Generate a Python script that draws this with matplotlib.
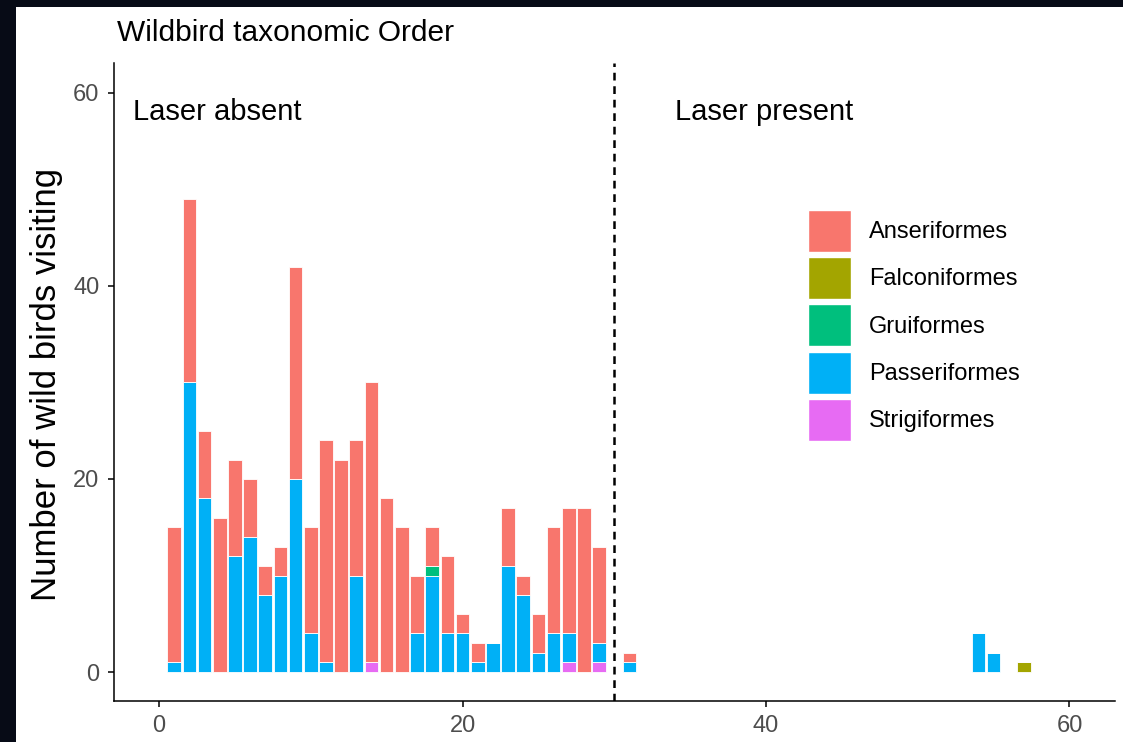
import matplotlib
matplotlib.use("Agg")
import matplotlib.pyplot as plt
import numpy as np
from matplotlib.patches import Patch, Rectangle

plt.rcParams['font.family'] = ['Liberation Sans', 'DejaVu Sans']

# day of trial and counts per taxonomic order
days = [1, 2, 3, 4, 5, 6, 7, 8, 9, 10, 11, 12, 13, 14, 15, 16, 17, 18, 19, 20,
        21, 22, 23, 24, 25, 26, 27, 28, 29, 31, 54, 55, 57]
anseriformes = [14, 19, 7, 16, 10, 6, 3, 3, 22, 11, 23, 22, 14, 29, 18, 15, 6, 4, 8, 2,
                2, 0, 6, 2, 4, 11, 13, 17, 10, 1, 0, 0, 0]
falconiformes = [0] * 32 + [1]
gruiformes = [0] * 17 + [1] + [0] * 15
passeriformes = [1, 30, 18, 0, 12, 14, 8, 10, 20, 4, 1, 0, 10, 0, 0, 0, 4, 10, 4, 4,
                 1, 3, 11, 8, 2, 4, 3, 0, 2, 1, 4, 2, 0]
strigiformes = [0] * 13 + [1] + [0] * 12 + [1, 0, 1, 0, 0, 0, 0]

orders = ["Anseriformes", "Falconiformes", "Gruiformes", "Passeriformes", "Strigiformes"]
colors = ["#F8766D", "#A3A500", "#00BF7D", "#00B0F6", "#E76BF3"]
series = [anseriformes, falconiformes, gruiformes, passeriformes, strigiformes]

fig = plt.figure(figsize=(11.23, 7.42), dpi=100)
fig.patch.set_facecolor("#070b16")
# white panel of the screenshot
fig.patches.append(Rectangle((16 / 1123, 0), 1, 1 - 7 / 742, transform=fig.transFigure,
                             facecolor="white", edgecolor="none", zorder=-5))

ax = fig.add_axes([114 / 1123, 1 - 700.7 / 742, (1115 - 114) / 1123, (700.7 - 63) / 742])
ax.set_zorder(2)
ax.patch.set_alpha(0)

# ggplot stacks the first level on top, so draw from the last level upwards
bottom = np.zeros(len(days))
for name, col, vals in reversed(list(zip(orders, colors, series))):
    vals = np.array(vals, dtype=float)
    ax.bar(days, vals, width=0.9, bottom=bottom, color=col, edgecolor="white",
           linewidth=0.6, zorder=2)
    bottom += vals

ax.axvline(30, color="black", lw=1.8, linestyle=(0, (3.1, 2.3)), zorder=3)

ax.text(-1.7, 58, "Laser absent", fontsize=21, va="center", ha="left")
ax.text(34.0, 58, "Laser present", fontsize=21, va="center", ha="left")

ax.set_xlim(-2.97, 63.0)
ax.set_ylim(-2.97, 63.1)
ax.set_xticks([0, 20, 40, 60])
ax.set_yticks([0, 20, 40, 60])
for s in ["top", "right"]:
    ax.spines[s].set_visible(False)
for s in ["left", "bottom"]:
    ax.spines[s].set_linewidth(1.1)
ax.tick_params(length=4.5, width=1.1, labelsize=17, labelcolor="#4D4D4D", pad=6)

fig.text(117 / 1123, 1 - 33 / 742, "Wildbird taxonomic Order", fontsize=21.5,
         ha="left", va="center")
fig.text(47 / 1123, 1 - 384 / 742, "Number of wild birds visiting", fontsize=25,
         rotation=90, ha="center", va="center")

handles = [Patch(facecolor=c, edgecolor="white", linewidth=1) for c in colors]
ax.legend(handles, orders, loc="upper left", bbox_to_anchor=(808 / 1123, 1 - 210 / 742),
          bbox_transform=fig.transFigure, frameon=False, fontsize=17, borderpad=0,
          borderaxespad=0, handlelength=1.82, handleheight=2.36, labelspacing=0.22,
          handletextpad=0.76)

fig.savefig("out.png", dpi=100, facecolor=fig.get_facecolor())
